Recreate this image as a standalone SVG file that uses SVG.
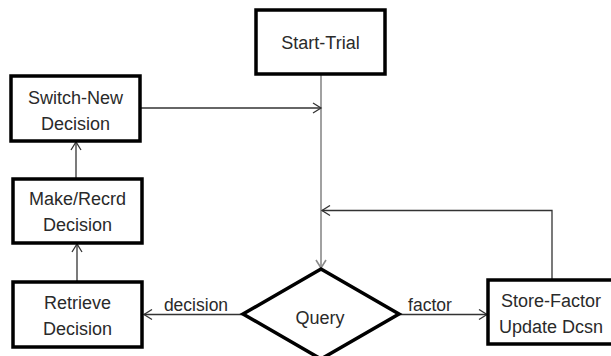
<svg xmlns="http://www.w3.org/2000/svg" width="611" height="356" viewBox="0 0 611 356">
  <defs>
    <style>
      .box { fill: #ffffff; stroke: #000000; stroke-width: 3.5; }
      .lbl { font-family: "Liberation Sans", Arial, sans-serif; font-size: 18px; fill: #2a2a2a; text-anchor: middle; }
      .elbl { font-family: "Liberation Sans", Arial, sans-serif; font-size: 17.5px; fill: #2a2a2a; text-anchor: middle; }
      .conn { fill: none; stroke: #333333; stroke-width: 1.3; }
      .conn-gray { fill: none; stroke: #8a8a8a; stroke-width: 1.6; }
    </style>
    <marker id="arr" markerUnits="userSpaceOnUse" markerWidth="12" markerHeight="12" viewBox="-10 -6 12 12" refX="0" refY="0" orient="auto">
      <path d="M-8,-5 L0,0 L-8,5" fill="none" stroke="#333333" stroke-width="1.3"/>
    </marker>
    <marker id="arr-gray" markerUnits="userSpaceOnUse" markerWidth="12" markerHeight="12" viewBox="-10 -6 12 12" refX="0" refY="0" orient="auto">
      <path d="M-8,-5 L0,0 L-8,5" fill="none" stroke="#8a8a8a" stroke-width="1.6"/>
    </marker>
  </defs>
  <rect width="611" height="356" fill="#ffffff"/>

  <g id="connectors">
    <line class="conn-gray" x1="321" y1="74" x2="321" y2="268" marker-end="url(#arr-gray)"/>
    <line class="conn" x1="140" y1="108" x2="321" y2="108" marker-end="url(#arr)"/>
    <polyline class="conn" points="552,280 552,210.5 322,210.5" marker-end="url(#arr)"/>
    <line class="conn" x1="243" y1="314.5" x2="144" y2="314.5" marker-end="url(#arr)"/>
    <line class="conn" x1="399" y1="314.5" x2="487" y2="314.5" marker-end="url(#arr)"/>
    <line class="conn" x1="77" y1="282" x2="77" y2="244" marker-end="url(#arr)"/>
    <line class="conn" x1="76" y1="178" x2="76" y2="142" marker-end="url(#arr)"/>
    <text class="elbl" x="196" y="311">decision</text>
    <text class="elbl" x="430" y="311">factor</text>
  </g>

  <g id="start-trial">
    <rect class="box" x="256" y="10" width="129" height="64"/>
    <text class="lbl" x="320.5" y="49">Start-Trial</text>
  </g>

  <g id="switch-new-decision">
    <rect class="box" x="11" y="76" width="129" height="65"/>
    <text class="lbl" x="75.5" y="104">Switch-New</text>
    <text class="lbl" x="75.5" y="130">Decision</text>
  </g>

  <g id="make-recrd-decision">
    <rect class="box" x="13" y="179" width="129" height="64"/>
    <text class="lbl" x="77.5" y="205">Make/Recrd</text>
    <text class="lbl" x="77.5" y="231">Decision</text>
  </g>

  <g id="retrieve-decision">
    <rect class="box" x="13" y="282" width="129" height="65"/>
    <text class="lbl" x="77.5" y="309">Retrieve</text>
    <text class="lbl" x="77.5" y="335">Decision</text>
  </g>

  <g id="query">
    <polygon class="box" points="321,269 399,314 321,359 243,314"/>
    <text class="lbl" x="320" y="324">Query</text>
  </g>

  <g id="store-factor">
    <rect class="box" x="488" y="280" width="127" height="64"/>
    <text class="lbl" x="551" y="307">Store-Factor</text>
    <text class="lbl" x="551" y="333">Update Dcsn</text>
  </g>
</svg>
